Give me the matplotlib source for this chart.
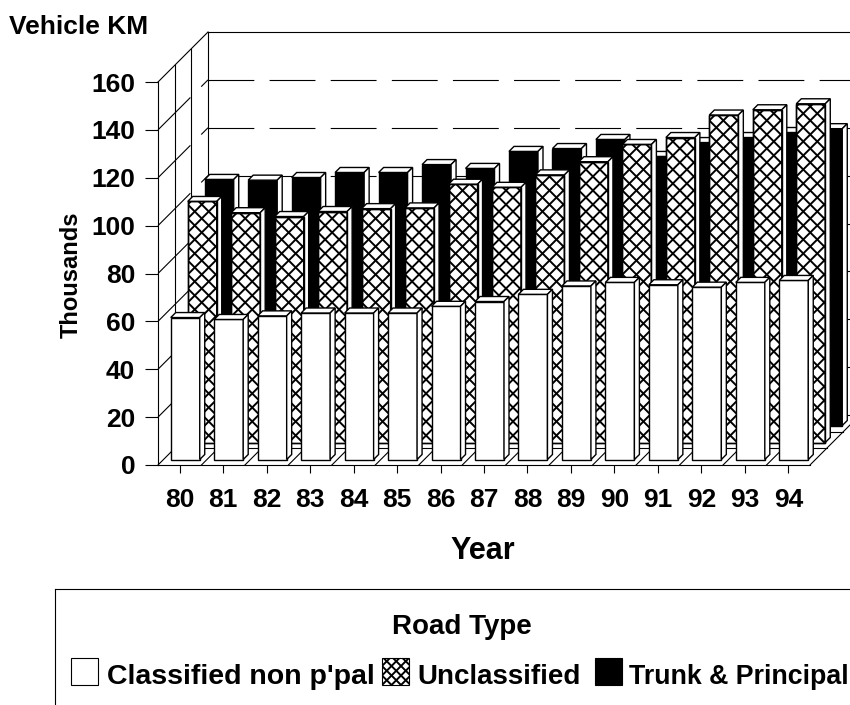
import matplotlib
matplotlib.use("Agg")
import matplotlib.pyplot as plt
import numpy as np
from matplotlib.collections import LineCollection
from matplotlib.lines import Line2D
from matplotlib.patches import Polygon, Rectangle
from matplotlib.transforms import Affine2D, IdentityTransform

plt.rcParams['font.family'] = ['Liberation Sans', 'DejaVu Sans']
plt.rcParams['font.weight'] = 'bold'
plt.rcParams['lines.scale_dashes'] = False

# Data
years = ['80', '81', '82', '83', '84', '85', '86', '87', '88', '89', '90', '91', '92', '93', '94']
classified = [59.3, 58.5, 60, 61.2, 61.2, 61.2, 64, 66, 69, 72.5, 74, 73, 72, 74, 74.8]
unclassified = [100.7, 96, 94.4, 96.5, 97.7, 98, 107.9, 106.6, 111.8, 117.3, 124.5, 127.4, 136.8, 139, 141.5]
trunk = [102.8, 102.5, 103.6, 105.7, 105.7, 109, 107.4, 114.5, 115.7, 119.5, 112.4, 118.2, 120.3, 122.4, 124]
y_ticks = [0, 20, 40, 60, 80, 100, 120, 140, 160]

W, H = 850, 705
DEPTH = 50
BAR_W = 29 / 43.47
SIDE = 5
LINE = 'black'
LW = 0.8

fig = plt.figure(figsize=(W / 100, H / 100), dpi=100)
ax = fig.add_axes([158 / W, (H - 465) / H, 652 / W, 383 / H])
ax.set_xlim(-0.5, 14.5)
ax.set_ylim(0, 160)
ax.patch.set_visible(False)
for name in ['top', 'right']:
    ax.spines[name].set_visible(False)
for name in ['left', 'bottom']:
    ax.spines[name].set_linewidth(LW)
ax.set_xticks(range(len(years)), years)
ax.set_yticks(y_ticks)
ax.tick_params(axis='x', length=5.8, width=LW, pad=11, labelsize=19)
ax.tick_params(axis='y', length=9.4, width=LW, pad=7, labelsize=19)


def pt(x, v, d=0):
    # display position of a value, pushed d pixels back into the box
    px, py = ax.transData.transform((x, v))
    return px + d, py + d


def add_line(a, b, z=1, **kw):
    kw.setdefault('color', LINE)
    kw.setdefault('linewidth', LW)
    ax.add_artist(Line2D([a[0], b[0]], [a[1], b[1]], transform=IdentityTransform(),
                         clip_on=False, zorder=z, **kw))


def add_poly(points, z, face='white'):
    ax.add_patch(Polygon(points, closed=True, facecolor=face, edgecolor=LINE, linewidth=LW + 0.2,
                         transform=IdentityTransform(), clip_on=False, zorder=z))


def lattice(box, z, target, period=14.0):
    # crossed diagonal lines clipped to a box, phase taken from its bottom left corner
    ext = box.get_window_extent()
    span = int((ext.width + ext.height) / period) + 2
    segs = []
    for k in range(-span, span + 1):
        cx = ext.x0 + k * period
        segs.append([(cx, ext.y0), (cx + 600, ext.y0 + 600)])
        segs.append([(cx, ext.y0), (cx - 600, ext.y0 + 600)])
    lines = LineCollection(segs, colors='black', linewidths=1.4, transform=IdentityTransform(), zorder=z)
    target.add_artist(lines)
    lines.set_clip_path(box)


# Left wall and back wall
x_left, x_right = -0.5, 14.5
add_line(pt(x_left, 160), pt(x_left, 160, DEPTH))
add_line(pt(x_left, 160, DEPTH), pt(x_right, 160, DEPTH))
add_line(pt(x_left, 0, DEPTH), pt(x_left, 160, DEPTH))
add_line(pt(x_left, 0, DEPTH), pt(x_right, 0, DEPTH))
for frac in [1 / 3, 2 / 3]:
    add_line(pt(x_left, 0, DEPTH * frac), pt(x_left, 160, DEPTH * frac))
    add_line(pt(x_left, 0, DEPTH * frac), pt(x_right, 0, DEPTH * frac))

# Dashed grid, broken the same way on both walls
dash = (0, (33, 11))
for v in y_ticks[1:-1]:
    add_line(pt(x_left, v), pt(x_left, v, DEPTH), linestyle=dash)
    add_line(pt(x_left, v, DEPTH), pt(x_right, v, DEPTH), linestyle=dash)

# Floor
for i in range(len(years) + 1):
    add_line(pt(x_left + i, 0), pt(x_left + i, 0, DEPTH))


def draw_series(values, shift, z, face, hatched=False):
    tf = ax.transData + Affine2D().translate(shift, shift)
    for i, v in enumerate(values):
        bars = ax.bar(i, v, BAR_W, color=face, edgecolor=LINE, linewidth=LW + 0.2,
                      transform=tf, clip_on=False, zorder=z)
        a = pt(i - BAR_W / 2, v, shift)
        b = pt(i + BAR_W / 2, v, shift)
        c = pt(i + BAR_W / 2, 0, shift)
        add_poly([a, b, (b[0] + SIDE, b[1] + SIDE), (a[0] + SIDE, a[1] + SIDE)], z)
        add_poly([b, c, (c[0] + SIDE, c[1] + SIDE), (b[0] + SIDE, b[1] + SIDE)], z)
        if hatched:
            lattice(bars[0], z + 0.1, ax)
            ax.bar(i, v, BAR_W, fill=False, edgecolor=LINE, linewidth=LW + 0.2,
                   transform=tf, clip_on=False, zorder=z + 0.2)


draw_series(trunk, 39.5, 3, 'black')
draw_series(unclassified, 22.5, 4, 'white', hatched=True)
draw_series(classified, 5.5, 5, 'white')


# Text and legend, placed in reference pixels
def label(x, y, s, size, **kw):
    fig.text(x / W, 1 - y / H, s, fontsize=size, fontweight='bold', va='center', **kw)


def swatch(x, y, w, h, face, hatched=False):
    box = Rectangle((x / W, 1 - (y + h) / H), w / W, h / H, transform=fig.transFigure,
                    facecolor=face, edgecolor=LINE, linewidth=LW)
    fig.add_artist(box)
    if hatched:
        lattice(box, 3, fig, period=9.5)


label(9, 27, 'Vehicle KM', 19, ha='left')
label(71, 275, 'Thousands', 17, ha='center', rotation=90)
label(483, 551, 'Year', 22, ha='center')
label(462, 627, 'Road Type', 20, ha='center')
label(107, 677, "Classified non p'pal", 20.5, ha='left')
label(417, 677, 'Unclassified', 20, ha='left')
label(629, 677, 'Trunk & Principal', 19.3, ha='left')

swatch(70.5, 657.5, 27, 27, 'white')
swatch(382, 658, 27, 27, 'white', hatched=True)
swatch(594.5, 657.5, 27, 27, 'black')

fig.add_artist(Line2D([55, 55], [0, H - 589], transform=IdentityTransform(), color=LINE, linewidth=LW))
fig.add_artist(Line2D([55, W], [H - 589, H - 589], transform=IdentityTransform(), color=LINE, linewidth=LW))

fig.savefig('out.png', dpi=100)
